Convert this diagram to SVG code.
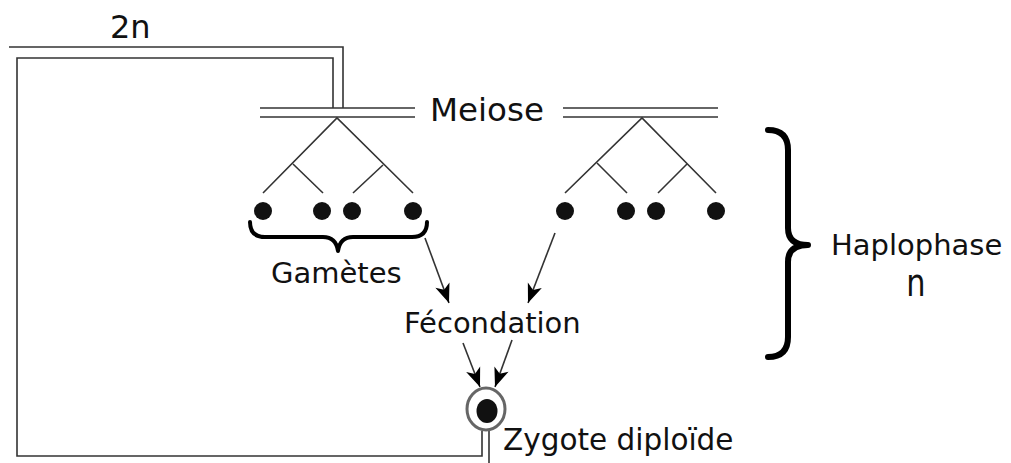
<svg xmlns="http://www.w3.org/2000/svg" width="1011" height="463" viewBox="0 0 1011 463">
<style>
.ln{fill:none;stroke:#333;stroke-width:1.6}
.br{fill:none;stroke:#000;stroke-linecap:round;stroke-linejoin:round}
.t{font-family:"DejaVu Sans","Liberation Sans",sans-serif;fill:#111}
.dot{fill:#111}
</style>
<defs>
<marker id="ah" viewBox="-20 -9 22 18" markerWidth="22" markerHeight="18" refX="0" refY="0" orient="auto" markerUnits="userSpaceOnUse">
<path d="M0,0 L-19,-7.5 L-14,0 L-19,7.5 Z" fill="#000"/>
</marker>
</defs>
<rect width="1011" height="463" fill="#fff"/>
<g id="connectors">
<polyline class="ln" points="9,47 343,47 343,108"/>
<polyline class="ln" points="333,108 333,58 17,58 17,456 482,456 482,431"/>
<line class="ln" x1="489" y1="431" x2="489" y2="463"/>
<line class="ln" x1="425" y1="238" x2="449" y2="303" marker-end="url(#ah)"/>
<line class="ln" x1="555" y1="233" x2="528" y2="303" marker-end="url(#ah)"/>
<line class="ln" x1="463" y1="343" x2="480" y2="387" marker-end="url(#ah)"/>
<line class="ln" x1="512" y1="340" x2="495" y2="387" marker-end="url(#ah)"/>
</g>
<g id="label-2n"><text class="t" x="110" y="38" font-size="32">2n</text></g>
<g id="meiose">
<line class="ln" x1="260" y1="108" x2="415" y2="108"/>
<line class="ln" x1="260" y1="117" x2="415" y2="117"/>
<line class="ln" x1="563" y1="108" x2="718" y2="108"/>
<line class="ln" x1="563" y1="117" x2="718" y2="117"/>
<text class="t" x="430" y="121" font-size="32.5">Meiose</text>
</g>
<g id="tree-left">
<polyline class="ln" points="263,193 337,118 413,193"/>
<line class="ln" x1="293" y1="164" x2="323" y2="193"/>
<line class="ln" x1="383" y1="165" x2="353" y2="193"/>
<circle class="dot" cx="263" cy="211" r="9"/>
<circle class="dot" cx="322" cy="211" r="9"/>
<circle class="dot" cx="352" cy="211" r="9"/>
<circle class="dot" cx="413" cy="211" r="9"/>
</g>
<g id="tree-right">
<polyline class="ln" points="565,193 642,118 716,193"/>
<line class="ln" x1="597" y1="163" x2="627" y2="193"/>
<line class="ln" x1="687" y1="164" x2="658" y2="193"/>
<circle class="dot" cx="565" cy="211" r="9"/>
<circle class="dot" cx="626" cy="211" r="9"/>
<circle class="dot" cx="656" cy="211" r="9"/>
<circle class="dot" cx="716" cy="211" r="9"/>
</g>
<g id="gametes">
<path class="br" stroke-width="4" d="M250,222 Q250,237 265,237 L323,237 Q336,237 338,251 Q340,237 353,237 L412,237 Q427,237 427,222"/>
<text class="t" x="271" y="283" font-size="29">Gamètes</text>
</g>
<g id="fecondation"><text class="t" x="404" y="333" font-size="29">Fécondation</text></g>
<g id="zygote">
<ellipse cx="486" cy="409" rx="19" ry="21" fill="#fff" stroke="#666" stroke-width="3"/>
<ellipse cx="487" cy="411" rx="10.5" ry="12" fill="#111"/>
<text class="t" x="503" y="450" font-size="29.5">Zygote diploïde</text>
</g>
<g id="haplophase">
<path class="br" stroke-width="6" d="M768,130 Q788,130 788,150 L788,228 Q788,245 808,245 Q788,245 788,262 L788,337 Q788,357 768,357"/>
<text class="t" x="831" y="255" font-size="29">Haplophase</text>
<text class="t" transform="translate(916,296) scale(0.8,1.05)" text-anchor="middle" font-size="38">n</text>
</g>
</svg>
